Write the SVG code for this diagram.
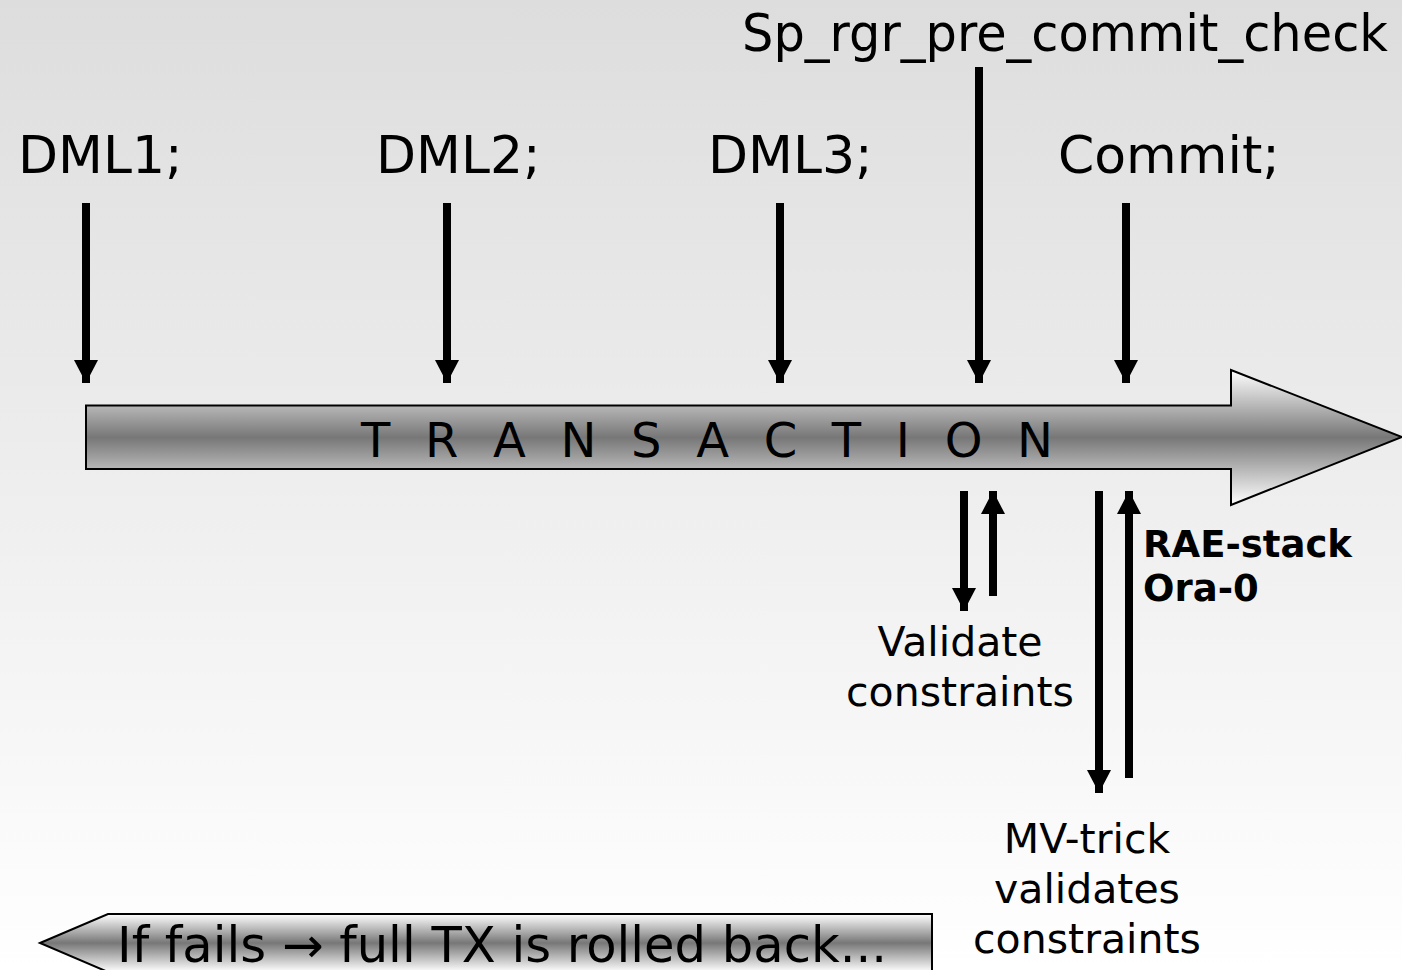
<svg xmlns="http://www.w3.org/2000/svg" width="1402" height="970" viewBox="0 0 1402 970">
  <defs>
    <linearGradient id="bg" x1="0" y1="0" x2="0" y2="1">
      <stop offset="0" stop-color="#dddddd"/>
      <stop offset="1" stop-color="#ffffff"/>
    </linearGradient>
    <linearGradient id="metal" x1="0" y1="0" x2="0" y2="1">
      <stop offset="0" stop-color="#ffffff"/>
      <stop offset="0.5" stop-color="#777777"/>
      <stop offset="1" stop-color="#ffffff"/>
    </linearGradient>
    <marker id="ah" markerUnits="userSpaceOnUse" markerWidth="24" markerHeight="24" refX="23" refY="12" orient="auto">
      <path d="M0,0 L23,12 L0,24 Z" fill="#000"/>
    </marker>
  </defs>
  <style>
    text { font-family: "DejaVu Sans", Verdana, sans-serif; fill: #000; }
    .big { font-size: 52px; }
    .mid { font-size: 41px; }
    .bold { font-size: 37px; font-weight: bold; }
    .conn line { stroke: #000; stroke-width: 8; marker-end: url(#ah); }
    .shape { fill: url(#metal); stroke: #000; stroke-width: 2; }
  </style>
  <rect x="0" y="0" width="1402" height="970" fill="url(#bg)"/>

  <g id="transaction">
    <polygon class="shape" points="86,405.5 1231,405.5 1231,370 1402,437 1231,505 1231,469 86,469"/>
    <text x="361" y="457" font-size="48" textLength="692" lengthAdjust="spacing">T R A N S A C T I O N</text>
  </g>

  <g id="rollback">
    <polygon class="shape" points="40,943 108,914 932,914 932,972 108,972"/>
    <text x="117" y="962" font-size="49" textLength="770" lengthAdjust="spacingAndGlyphs">If fails → full TX is rolled back...</text>
  </g>

  <g id="dml1"><text class="big" x="18" y="173">DML1;</text></g>
  <g id="dml2"><text class="big" x="376" y="173">DML2;</text></g>
  <g id="dml3"><text class="big" x="708" y="173">DML3;</text></g>
  <g id="commit"><text class="big" x="1058" y="173">Commit;</text></g>
  <g id="precommit"><text class="big" x="742" y="51" textLength="646" lengthAdjust="spacingAndGlyphs">Sp_rgr_pre_commit_check</text></g>

  <g id="validate">
    <text class="mid" x="960" y="656" text-anchor="middle">Validate</text>
    <text class="mid" x="960" y="706" text-anchor="middle">constraints</text>
  </g>
  <g id="mvtrick">
    <text class="mid" x="1087" y="853" text-anchor="middle">MV-trick</text>
    <text class="mid" x="1087" y="903" text-anchor="middle">validates</text>
    <text class="mid" x="1087" y="953" text-anchor="middle">constraints</text>
  </g>
  <g id="raestack">
    <text class="bold" x="1143" y="557">RAE-stack</text>
    <text class="bold" x="1143" y="601">Ora-0</text>
  </g>

  <g class="conn" id="connectors">
    <line x1="86" y1="203" x2="86" y2="383"/>
    <line x1="447" y1="203" x2="447" y2="383"/>
    <line x1="780" y1="203" x2="780" y2="383"/>
    <line x1="979" y1="67" x2="979" y2="383"/>
    <line x1="1126" y1="203" x2="1126" y2="383"/>
    <line x1="964" y1="491" x2="964" y2="611"/>
    <line x1="993" y1="596" x2="993" y2="491"/>
    <line x1="1099" y1="491" x2="1099" y2="793"/>
    <line x1="1129" y1="778" x2="1129" y2="491"/>
  </g>
</svg>
